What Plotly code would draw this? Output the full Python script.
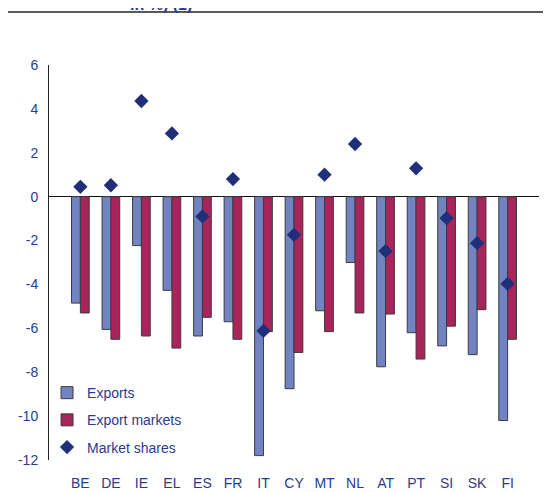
import plotly.graph_objects as go

countries = ["BE", "DE", "IE", "EL", "ES", "FR", "IT", "CY", "MT", "NL", "AT", "PT", "SI", "SK", "FI"]
exports = [-4.85, -6.05, -2.23, -4.27, -6.35, -5.7, -11.8, -8.75, -5.2, -3.0, -7.75, -6.2, -6.8, -7.2, -10.2]
export_markets = [-5.3, -6.5, -6.35, -6.9, -5.5, -6.5, -6.15, -7.1, -6.15, -5.3, -5.35, -7.4, -5.9, -5.15, -6.5]
market_shares = [0.45, 0.52, 4.36, 2.88, -0.9, 0.8, -6.12, -1.74, 1.0, 2.4, -2.48, 1.29, -0.98, -2.12, -3.97]
y_ticks = [6, 4, 2, 0, -2, -4, -6, -8, -10, -12]

NAVY = "#2b3a8c"
FONT = "Liberation Sans, Arial, sans-serif"

fig = go.Figure()
fig.add_trace(go.Bar(
    x=countries, y=exports, name="Exports", legendgroup="a",
    marker=dict(color="#7283c2", line=dict(color="#3c3c3c", width=1)),
))
fig.add_trace(go.Bar(
    x=countries, y=export_markets, name="Export markets", legendgroup="b",
    marker=dict(color="#a8245a", line=dict(color="#3c3c3c", width=1)),
))
fig.add_trace(go.Scatter(
    x=countries, y=market_shares, name="Market shares", legendgroup="c",
    mode="markers", marker=dict(symbol="diamond", size=11, color="#1f2f7a"),
))

# page body keeps its 8px margin, so the figure is sized to fit inside it
fig.update_layout(
    width=543, height=484,
    margin=dict(l=41, r=12, t=57, b=32, autoexpand=False),
    paper_bgcolor="white", plot_bgcolor="white",
    barmode="group", bargap=0.42, bargroupgap=0,
    font=dict(family=FONT, size=14, color=NAVY),
    showlegend=True,
    legend=dict(x=-0.004, y=0.21, xanchor="left", yanchor="top",
                bgcolor="rgba(0,0,0,0)", tracegroupgap=6, itemwidth=30,
                font=dict(family=FONT, size=14, color=NAVY)),
    xaxis=dict(showline=False, ticks="", showgrid=False, ticklabelstandoff=13,
               automargin=False,
               tickfont=dict(family=FONT, size=14, color=NAVY)),
    yaxis=dict(range=[-12, 6], tickvals=y_ticks, ticktext=[str(v) for v in y_ticks],
               showgrid=False, automargin=False,
               showline=True, linecolor="#222222", linewidth=1, ticks="",
               zeroline=True, zerolinecolor="#111111", zerolinewidth=1,
               ticklabelstandoff=7,
               tickfont=dict(family=FONT, size=14, color=NAVY)),
    shapes=[dict(type="line", xref="paper", yref="paper",
                 x0=-0.084, x1=1.03, y0=1.134, y1=1.134,
                 line=dict(color="#222222", width=1.5))],
    annotations=[dict(text="<b>in %) (1)</b>", xref="paper", yref="paper",
                      x=0.161, y=1.127, xanchor="left", yanchor="bottom",
                      showarrow=False,
                      font=dict(family=FONT, size=16, color="#2b3a8c"))],
)

fig.write_html("out.html")
